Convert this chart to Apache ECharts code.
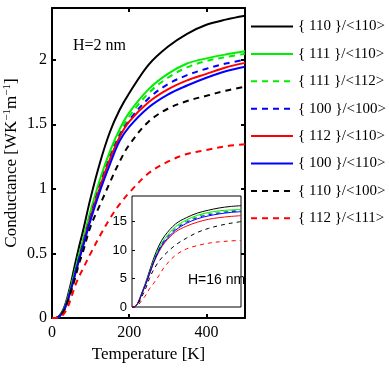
<!DOCTYPE html>
<html><head><meta charset="utf-8">
<script src="https://cdn.jsdelivr.net/npm/echarts@6/dist/echarts.min.js"></script>
<style>html,body{margin:0;padding:0;background:#fff}#c{width:389px;height:389px}</style>
</head><body><div id="c"></div>
<script>
// Main chart (H=2 nm)
const temps = [0,10,20,30,40,50,60,70,80,100,125,150,175,200,250,300,350,400,450,500];
const names = ['{ 110 }/<110>','{ 111 }/<110>','{ 111 }/<112>','{ 100 }/<100>','{ 112 }/<110>','{ 100 }/<110>','{ 110 }/<100>','{ 112 }/<111>'];
const g110_110 = [0,0,0.02,0.07,0.16,0.28,0.42,0.55,0.67,0.93,1.21,1.44,1.61,1.74,1.96,2.10,2.20,2.27,2.31,2.34];
const g111_110 = [0,0,0.015,0.06,0.14,0.25,0.37,0.49,0.60,0.83,1.08,1.29,1.46,1.59,1.77,1.89,1.97,2.01,2.04,2.065];
const g111_112 = [0,0,0.015,0.06,0.14,0.25,0.37,0.48,0.59,0.82,1.06,1.27,1.43,1.56,1.74,1.86,1.94,1.99,2.02,2.045];
const g100_100 = [0,0,0.015,0.055,0.13,0.23,0.35,0.46,0.57,0.79,1.03,1.24,1.41,1.53,1.70,1.81,1.88,1.93,1.97,2.00];
const g112_110 = [0,0,0.015,0.055,0.13,0.23,0.34,0.45,0.56,0.78,1.02,1.23,1.40,1.52,1.67,1.77,1.84,1.89,1.94,1.975];
const g100_110 = [0,0,0.015,0.055,0.13,0.23,0.34,0.45,0.55,0.76,0.99,1.19,1.37,1.48,1.63,1.73,1.80,1.86,1.91,1.945];
const g110_100 = [0,0,0.01,0.05,0.12,0.21,0.31,0.42,0.51,0.71,0.88,1.05,1.21,1.34,1.52,1.62,1.68,1.72,1.76,1.79];
const g112_111 = [0,0,0.005,0.03,0.08,0.16,0.25,0.32,0.38,0.50,0.64,0.77,0.88,0.97,1.12,1.21,1.27,1.30,1.33,1.345];
// Inset (H=16 nm)
const tempsInset = [0,10,20,30,40,50,60,80,100,125,150,200,250,300,350,400,450,500];
const i110_110 = [0,0,0.3,1.0,2.0,3.0,4.0,6.3,8.6,10.9,12.5,14.6,15.7,16.5,17.0,17.4,17.65,17.8];
const i111_110 = [0,0,0.3,0.9,1.8,2.8,3.8,5.9,8.2,10.4,12.0,14.1,15.3,16.1,16.6,16.9,17.05,17.15];
const i111_112 = [0,0,0.3,0.9,1.8,2.8,3.8,5.9,8.1,10.3,11.9,13.9,15.1,15.9,16.4,16.7,16.9,17.0];
const i100_100 = [0,0,0.3,0.9,1.8,2.8,3.8,5.8,8.0,10.2,11.7,13.7,14.9,15.7,16.2,16.5,16.75,16.9];
const i112_110 = [0,0,0.3,0.9,1.8,2.7,3.7,5.7,7.8,9.8,11.3,13.2,14.2,14.9,15.4,15.7,15.9,16.05];
const i100_110 = [0,0,0.3,0.9,1.8,2.8,3.7,5.8,7.9,10.0,11.5,13.5,14.7,15.5,16.0,16.35,16.6,16.75];
const i110_100 = [0,0,0.2,0.7,1.4,2.2,3.0,5.0,6.6,8.1,9.2,10.9,12.1,13.1,13.8,14.3,14.7,15.0];
const i112_111 = [0,0,0.1,0.4,0.9,1.4,1.9,3.2,4.2,5.6,7.1,9.1,10.2,10.8,11.2,11.45,11.6,11.7];
const xTicksMain = [0,200,400];
const yTicksMain = [0,0.5,1,1.5,2];
const yTicksInset = [0,5,10,15];

const mainSets = [g110_110,g111_110,g111_112,g100_100,g112_110,g100_110,g110_100,g112_111];
const insetSets = [i110_110,i111_110,i111_112,i100_100,i112_110,i100_110,i110_100,i112_111];
const colors = ['#000000','#00ee00','#00ee00','#0000ff','#ff0000','#0000ff','#000000','#ff0000'];
const dashed = [false,false,true,true,false,false,true,true];

const serif = 'Liberation Serif';
const sans = 'Liberation Sans';
const series = [];
mainSets.forEach((d,k)=>{
  series.push({name:names[k],type:'line',xAxisIndex:0,yAxisIndex:0,symbol:'none',smooth:0.35,z:2+k*0.01,
    data:temps.map((t,i)=>[t,d[i]]),
    lineStyle:{color:colors[k],width:2,type:dashed[k]?[6,5]:'solid'},itemStyle:{color:colors[k],opacity:0}});
});
insetSets.forEach((d,k)=>{
  series.push({name:'inset'+k,type:'line',xAxisIndex:2,yAxisIndex:2,symbol:'none',smooth:0.35,z:20,
    data:tempsInset.map((t,i)=>[t,d[i]]),
    lineStyle:{color:colors[k],width:1,type:dashed[k]?[4,4]:'solid'}});
});

const axLine = {show:true,onZero:false,lineStyle:{color:'#000',width:2}};
const option = {
  animation:false,
  backgroundColor:'#fff',
  grid:[
    {left:52,top:8,right:144,bottom:71,show:false},
    {left:132,top:196,right:148,bottom:82,show:true,backgroundColor:'#fff',borderColor:'#000',borderWidth:1,z:10}
  ],
  legend:{
    orient:'vertical',left:250,top:19,padding:0,itemWidth:42,itemHeight:14,itemGap:12.4,
    data:names,
    itemStyle:{opacity:0},
    textStyle:{fontFamily:serif,fontSize:15,color:'#000'},
    inactiveColor:'#000'
  },
  xAxis:[
    {gridIndex:0,type:'value',min:0,max:500,interval:200,position:'bottom',
     axisLine:axLine,axisTick:{inside:true,length:4,lineStyle:{color:'#000',width:2}},
     splitLine:{show:false},
     axisLabel:{color:'#000',fontFamily:serif,fontSize:16,margin:7,showMaxLabel:false,
       formatter:v=>xTicksMain.includes(v)?String(v):''},
     name:'Temperature [K]',nameLocation:'middle',nameGap:25,
     nameTextStyle:{color:'#000',fontFamily:serif,fontSize:17}},
    {gridIndex:0,type:'value',min:0,max:500,interval:200,position:'top',
     axisLine:axLine,axisTick:{inside:true,length:4,lineStyle:{color:'#000',width:2}},
     axisLabel:{show:false},splitLine:{show:false}},
    {gridIndex:1,type:'value',min:0,max:500,interval:200,z:12,
     axisLine:{show:false,onZero:false},axisTick:{show:false},axisLabel:{show:false},splitLine:{show:false}}
  ],
  yAxis:[
    {gridIndex:0,type:'value',min:0,max:2.4,interval:0.5,position:'left',
     axisLine:axLine,axisTick:{inside:true,length:4,lineStyle:{color:'#000',width:2}},
     splitLine:{show:false},
     axisLabel:{color:'#000',fontFamily:serif,fontSize:16,margin:5,showMaxLabel:false,
       formatter:v=>yTicksMain.includes(v)?String(v):''},
     name:'Conductance [WK{s|−1}m{s|−1}]',nameLocation:'middle',nameGap:31,nameRotate:90,
     nameTextStyle:{color:'#000',fontFamily:serif,fontSize:17,
       rich:{s:{fontFamily:serif,fontSize:11,verticalAlign:'top',padding:[0,0,8,0],color:'#000'}}}},
    {gridIndex:0,type:'value',min:0,max:2.4,interval:0.5,position:'right',
     axisLine:axLine,axisTick:{inside:true,length:4,lineStyle:{color:'#000',width:2}},
     axisLabel:{show:false},splitLine:{show:false}},
    {gridIndex:1,type:'value',min:0,max:19.5,interval:5,z:12,
     axisLine:{show:false,onZero:false},axisTick:{inside:true,length:3,lineStyle:{color:'#000',width:1}},
     splitLine:{show:false},
     axisLabel:{color:'#000',fontFamily:sans,fontSize:13,margin:5,showMaxLabel:false,
       formatter:v=>yTicksInset.includes(v)?String(v):''}}
  ],
  graphic:[
    {type:'text',left:73,top:38,z:30,style:{text:'H=2 nm',fontFamily:serif,fontSize:16,fill:'#000'}},
    {type:'text',left:188,top:273,z:30,style:{text:'H=16 nm',fontFamily:sans,fontSize:14,fill:'#000'}}
  ],
  series:series
};
const chart = echarts.init(document.getElementById('c'),null,{renderer:'canvas'});
chart.setOption(option);
</script></body></html>
